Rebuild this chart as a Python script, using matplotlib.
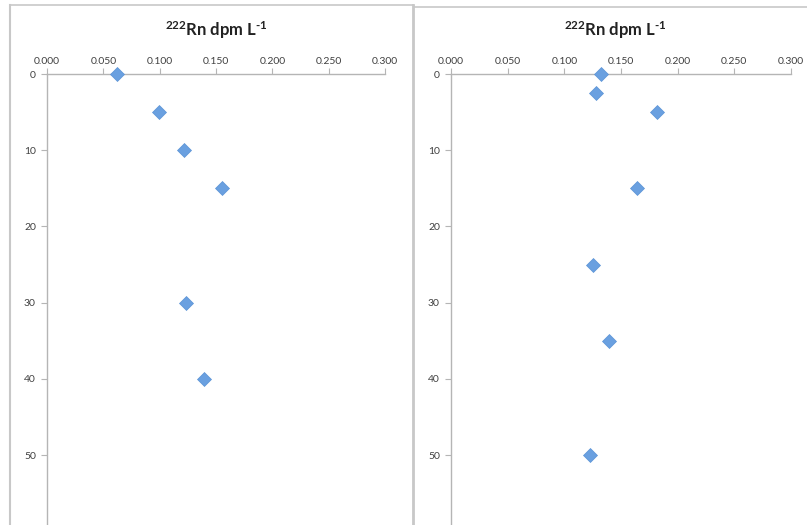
import matplotlib
matplotlib.use("Agg")
import matplotlib.pyplot as plt
from matplotlib.lines import Line2D

plt.rcParams['font.family'] = ['Lato', 'DejaVu Sans']
plt.rcParams['mathtext.fontset'] = 'custom'
plt.rcParams['mathtext.rm'] = 'Lato:bold'
plt.rcParams['mathtext.bf'] = 'Lato:bold'
plt.rcParams['mathtext.it'] = 'Lato:bold'

# Data
left_depth = [0, 5, 10, 15, 30, 40]
left_rn = [0.062, 0.099, 0.122, 0.155, 0.123, 0.139]
right_depth = [0, 2.5, 5, 15, 25, 35, 50]
right_rn = [0.132, 0.128, 0.1815, 0.164, 0.125, 0.139, 0.123]
x_ticks = [0.0, 0.05, 0.10, 0.15, 0.20, 0.25, 0.30]
x_tick_labels = ["0.000", "0.050", "0.100", "0.150", "0.200", "0.250", "0.300"]
y_ticks = [0, 10, 20, 30, 40, 50]
title_text = r"$^{222}$Rn dpm L$^{\text{-}1}$"

W, H = 807, 525
fig = plt.figure(figsize=(W / 100, H / 100), dpi=100)
fig.patch.set_facecolor("white")

border_col = "#c8c8c8"
axis_col = "#b5b5b5"
label_col = "#404040"
marker_col = "#6aa0e0"

# left panel box
fig.add_artist(Line2D([10 / W, 10 / W], [1 - 5 / H, -0.05], color=border_col, lw=1.5))
fig.add_artist(Line2D([10 / W, 413 / W], [1 - 5 / H, 1 - 5 / H], color=border_col, lw=1.2))
fig.add_artist(Line2D([413 / W, 413 / W], [1 - 5 / H, -0.05], color=border_col, lw=2.0))
# right panel box
fig.add_artist(Line2D([414 / W, 1.05], [1 - 6.5 / H, 1 - 6.5 / H], color=border_col, lw=1.2))


def make_panel(left_px, right_px, depth, rn, title_cx):
    top_px = 74
    ppu = 7.62
    bottom_px = top_px + 60 * ppu
    ax = fig.add_axes([left_px / W, 1 - bottom_px / H, (right_px - left_px) / W, (bottom_px - top_px) / H])
    ax.set_xlim(0, 0.3)
    ax.set_ylim(60, 0)
    ax.patch.set_alpha(0)
    for s in ["right", "bottom"]:
        ax.spines[s].set_visible(False)
    for s in ["left", "top"]:
        ax.spines[s].set_color(axis_col)
        ax.spines[s].set_linewidth(1.0)
    ax.xaxis.tick_top()
    ax.set_xticks(x_ticks)
    ax.set_xticklabels(x_tick_labels)
    ax.set_yticks(y_ticks)
    ax.tick_params(axis="x", direction="out", length=4, width=0.8, color=axis_col,
                   labelsize=7.5, labelcolor=label_col, pad=2)
    ax.tick_params(axis="y", direction="out", length=4, width=0.8, color=axis_col,
                   labelsize=7.5, labelcolor=label_col, pad=4)
    ax.plot(rn, depth, linestyle="none", marker="D", markersize=7,
            markerfacecolor=marker_col, markeredgecolor="#5b93d6", markeredgewidth=0.5,
            clip_on=False, zorder=5)
    fig.text(title_cx / W, 1 - 30 / H, title_text, ha="center", va="center",
             fontsize=12, fontweight="bold", color="#222222")
    return ax


make_panel(47, 385, left_depth, left_rn, 216)
make_panel(451, 791, right_depth, right_rn, 615)

fig.savefig("out.png", dpi=100, facecolor="white")
